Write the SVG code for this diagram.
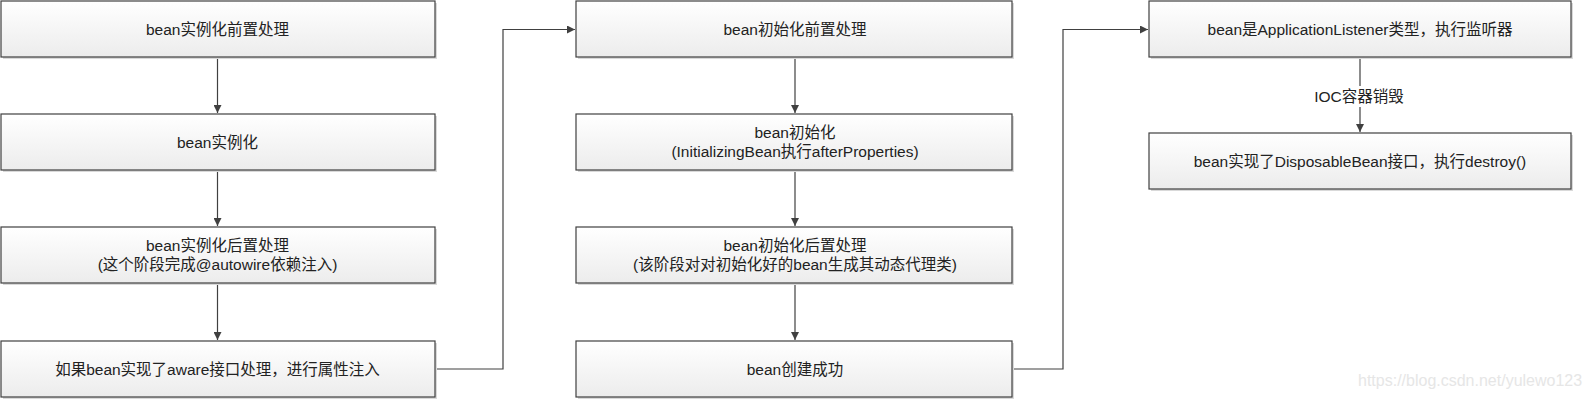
<svg xmlns="http://www.w3.org/2000/svg" width="1590" height="400" viewBox="0 0 1590 400">
<defs>
<linearGradient id="g" x1="0" y1="0" x2="0" y2="1">
<stop offset="0" stop-color="#ffffff"/>
<stop offset="1" stop-color="#ececec"/>
</linearGradient>
<marker id="ah" markerUnits="userSpaceOnUse" markerWidth="9" markerHeight="8" refX="8" refY="4" orient="auto">
<path d="M0,0 L8,4 L0,8 z" fill="#404040"/>
</marker>
<style>
.box{fill:url(#g);stroke:#404040;stroke-width:1.2}
.sh{fill:#d9d9d9}
.t{font-family:"Liberation Sans","Noto Sans CJK SC",sans-serif;font-size:15.5px;fill:#222;text-anchor:middle}
.c{fill:none;stroke:#404040;stroke-width:1.2;marker-end:url(#ah)}
.wm{font-family:"Liberation Sans",Arial,sans-serif;font-size:16px;fill:#e6e6e6}
</style>
</defs>
<g id="connectors">
<path class="c" d="M217.5,57 V113"/>
<path class="c" d="M217.5,170 V226"/>
<path class="c" d="M217.5,284 V340"/>
<path class="c" d="M435,369 H503 V29.5 H575"/>
<path class="c" d="M795,57 V113"/>
<path class="c" d="M795,170 V226"/>
<path class="c" d="M795,284 V340"/>
<path class="c" d="M1012,369 H1063 V29.5 H1148"/>
<path class="c" d="M1360,57 V132"/>
<rect x="1310" y="86" width="100" height="21" fill="#ffffff"/>
<text class="t" x="1359" y="102">IOC容器销毁</text>
</g>
<g id="n1"><rect class="sh" x="3" y="3" width="434" height="56"/><rect class="box" x="1" y="1" width="434" height="56"/><text class="t" x="217.5" y="34.5">bean实例化前置处理</text></g>
<g id="n2"><rect class="sh" x="3" y="116" width="434" height="56"/><rect class="box" x="1" y="114" width="434" height="56"/><text class="t" x="217.5" y="147.5">bean实例化</text></g>
<g id="n3"><rect class="sh" x="3" y="229" width="434" height="56"/><rect class="box" x="1" y="227" width="434" height="56"/><text class="t" x="217.5" y="251">bean实例化后置处理</text><text class="t" x="217.5" y="270">(这个阶段完成@autowire依赖注入)</text></g>
<g id="n4"><rect class="sh" x="3" y="343" width="434" height="56"/><rect class="box" x="1" y="341" width="434" height="56"/><text class="t" x="217.5" y="374.5">如果bean实现了aware接口处理，进行属性注入</text></g>
<g id="n5"><rect class="sh" x="578" y="3" width="436" height="56"/><rect class="box" x="576" y="1" width="436" height="56"/><text class="t" x="795" y="34.5">bean初始化前置处理</text></g>
<g id="n6"><rect class="sh" x="578" y="116" width="436" height="56"/><rect class="box" x="576" y="114" width="436" height="56"/><text class="t" x="795" y="138">bean初始化</text><text class="t" x="795" y="157">(InitializingBean执行afterProperties)</text></g>
<g id="n7"><rect class="sh" x="578" y="229" width="436" height="56"/><rect class="box" x="576" y="227" width="436" height="56"/><text class="t" x="795" y="251">bean初始化后置处理</text><text class="t" x="795" y="270">(该阶段对对初始化好的bean生成其动态代理类)</text></g>
<g id="n8"><rect class="sh" x="578" y="343" width="436" height="56"/><rect class="box" x="576" y="341" width="436" height="56"/><text class="t" x="795" y="374.5">bean创建成功</text></g>
<g id="n9"><rect class="sh" x="1151" y="3" width="422" height="56"/><rect class="box" x="1149" y="1" width="422" height="56"/><text class="t" x="1360" y="34.5">bean是ApplicationListener类型，执行监听器</text></g>
<g id="n10"><rect class="sh" x="1151" y="135" width="422" height="56"/><rect class="box" x="1149" y="133" width="422" height="56"/><text class="t" x="1360" y="166.5">bean实现了DisposableBean接口，执行destroy()</text></g>
<text class="wm" x="1358" y="386">https://blog.csdn.net/yulewo123</text>
</svg>
